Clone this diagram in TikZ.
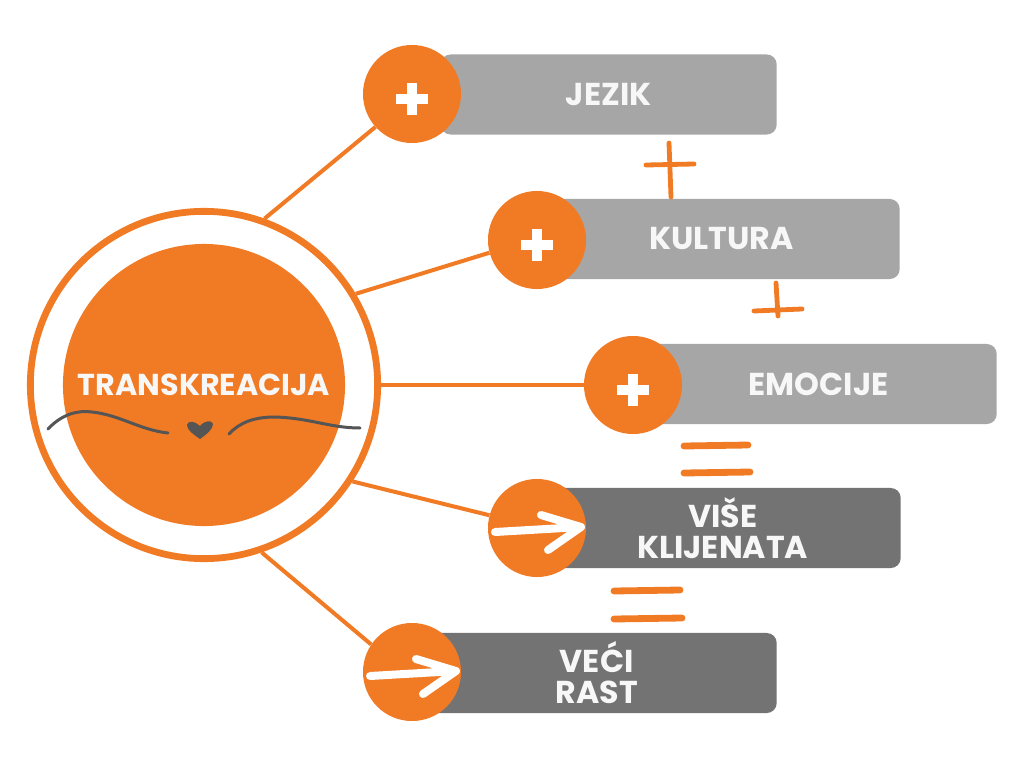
\documentclass[tikz,border=0pt]{standalone}
\usepackage{fontspec}
\setmainfont{Poppins}
\definecolor{brand}{HTML}{F17A24}
\definecolor{lightbar}{HTML}{A6A6A6}
\definecolor{darkbar}{HTML}{737373}
\definecolor{ink}{HTML}{555555}
\definecolor{label}{HTML}{F7F7F7}
\tikzset{
  dot/.style={circle, fill=brand, minimum size=2.45cm, inner sep=0pt},
  bar/.style={rounded corners=0.25cm, minimum height=2cm, inner sep=0pt,
    text=label, font=\bfseries\fontsize{22.5}{22}\selectfont, align=center, anchor=east},
  link/.style={brand, line width=0.1cm},
  brush/.style={brand, line width=0.17cm, line cap=round},
  sign/.style={white, line width=0.25cm},
  swash/.style={ink, line width=0.075cm, line cap=round},
  pointer/.style={white, line width=0.2cm, line cap=round, line join=round},
}
% white plus inside a dot
\newcommand{\plusmark}[1]{\draw[sign, shift={(#1)}] (-16,5) -- (16,5) (0,-11) -- (0,21);}
% white arrow inside a dot
\newcommand{\arrowmark}[1]{\draw[pointer, shift={(#1)}] (-42,4) -- (44,-1) (4,-13) -- (44,-1) -- (11,22);}
\begin{document}
\begin{tikzpicture}[x=0.025cm, y=-0.025cm]
\fill[white] (0,0) rectangle (1024,768);
\useasboundingbox (0,0) rectangle (1024,768);

% bars
\node[bar, fill=lightbar, minimum width=8.4cm] (jezik) at (777,94.5) {JEZIK};
\node[bar, fill=lightbar, minimum width=8.9cm] (kultura) at (900,239) {KULTURA};
\node[bar, fill=lightbar, minimum width=8.9cm] (emocije) at (997,384) {EMOCIJE};
\node[bar, fill=darkbar, minimum width=8.9cm] (klijenti) at (901,528) {VIŠE\\KLIJENATA};
\node[bar, fill=darkbar, minimum width=9cm] (rast) at (777,673) {VEĆI\\RAST};

% dots
\node[dot] (d1) at (412,94) {};
\node[dot] (d2) at (537,240) {};
\node[dot] (d3) at (633,385) {};
\node[dot] (d4) at (537,528) {};
\node[dot] (d5) at (412,672) {};
\plusmark{d1.center}
\plusmark{d2.center}
\plusmark{d3.center}
\arrowmark{d4.center}
\arrowmark{d5.center}

% centre
\node[circle, draw=brand, line width=0.17cm, minimum size=8.68cm, inner sep=0pt] (ring) at (204,385) {};
\node[circle, fill=brand, minimum size=7.05cm, inner sep=0pt, text=label,
  font=\bfseries\fontsize{21.5}{22}\selectfont] (core) at (204,385) {TRANSKREACIJA};

% links
\draw[link] (ring.70) -- (d1.222);
\draw[link] (ring.31) -- (d2.195);
\draw[link] (ring.0) -- (d3.180);
\draw[link] (ring.-33) -- (d4.165);
\draw[link] (ring.-71) -- (d5.146);

% swash and heart
\draw[swash] (48,429) .. controls (62,414) and (78,410) .. (92,412)
  .. controls (120,415) and (140,430) .. (168,433);
\draw[swash] (229,434) .. controls (240,422) and (255,417) .. (275,417)
  .. controls (310,418) and (330,428) .. (360,428);
\fill[ink] (200,439) .. controls (193,434) and (187,430) .. (187,425)
  .. controls (188,420) and (195,421) .. (200,426)
  .. controls (205,420) and (212,420) .. (213,424)
  .. controls (213,429) and (207,434) .. (200,439) -- cycle;

% hand drawn signs
\draw[brush, line width=0.12cm] (669,143) -- (671,197) (646,165) -- (694,164);
\draw[brush, line width=0.12cm] (776,283) -- (778,316) (754,311) -- (802,309);
\draw[brush] (684,446) -- (748,445) (684,473) -- (750,472);
\draw[brush] (614,591) -- (680,590) (614,619) -- (682,618);
\end{tikzpicture}
\end{document}
